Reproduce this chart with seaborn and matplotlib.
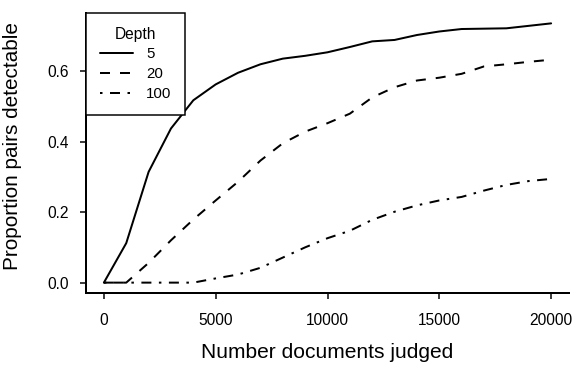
import matplotlib
matplotlib.use("Agg")
import matplotlib.pyplot as plt
import seaborn as sns
import numpy as np
import pandas as pd

docs = [0, 1000, 2000, 3000, 4000, 5000, 6000, 7000, 8000, 9000, 10000,
        11000, 12000, 13000, 14000, 15000, 16000, 17000, 18000, 19000, 20000]
depth5 = [0.0, 0.112, 0.314, 0.437, 0.517, 0.562, 0.595, 0.619, 0.635, 0.643, 0.653,
          0.668, 0.684, 0.688, 0.702, 0.712, 0.719, 0.720, 0.721, 0.728, 0.735]
depth20 = [0.0, 0.0, 0.056, 0.120, 0.179, 0.233, 0.286, 0.346, 0.395, 0.428, 0.452,
           0.479, 0.525, 0.554, 0.573, 0.581, 0.592, 0.613, 0.619, 0.626, 0.632]
depth100 = [0.0, 0.0, 0.0, 0.0, 0.0, 0.012, 0.023, 0.042, 0.071, 0.100, 0.126,
            0.147, 0.178, 0.201, 0.219, 0.233, 0.243, 0.261, 0.277, 0.288, 0.294]
depth_labels = ["5", "20", "100"]
x_ticks = [0, 5000, 10000, 15000, 20000]
y_ticks = [0.0, 0.2, 0.4, 0.6]

sns.set_style("ticks")
plt.rcParams["font.family"] = ["Liberation Sans", "DejaVu Sans"]
plt.rcParams["text.color"] = "black"
plt.rcParams["axes.labelcolor"] = "black"
plt.rcParams["xtick.color"] = "black"
plt.rcParams["ytick.color"] = "black"

fig = plt.figure(figsize=(576 / 72, 365 / 72), dpi=72)
ax = fig.add_axes([86 / 576, 1 - 293 / 365, (569 - 86) / 576, (293 - 13) / 365])

series = [depth5, depth20, depth100]
styles = ["-", (0, (5, 5)), (0, (1.25, 3.75, 5, 3.75))]
for vals, lab, ls in zip(series, depth_labels, styles):
    sns.lineplot(x=docs, y=vals, ax=ax, color="black", linewidth=2,
                 linestyle=ls, label=lab)

xr = max(docs) - min(docs)
ax.set_xlim(min(docs) - 0.04 * xr, max(docs) + 0.04 * xr)
allv = depth5 + depth20 + depth100
yr = max(allv) - min(allv)
ax.set_ylim(min(allv) - 0.04 * yr, max(allv) + 0.04 * yr)

ax.set_xticks(x_ticks)
ax.set_xticklabels([str(t) for t in x_ticks])
ax.set_yticks(y_ticks)
ax.set_yticklabels([f"{t:.1f}" for t in y_ticks])

for side in ["top", "right"]:
    ax.spines[side].set_visible(False)
for side in ["left", "bottom"]:
    ax.spines[side].set_linewidth(2)
    ax.spines[side].set_color("black")

ax.tick_params(axis="both", direction="out", length=6, width=1.5, colors="black",
               labelcolor="black", labelsize=15.5)
ax.tick_params(axis="x", pad=14)
ax.tick_params(axis="y", pad=11)

ax.set_xlabel("Number documents judged", fontsize=21, labelpad=15, color="black")
ax.set_ylabel("Proportion pairs detectable", fontsize=20.7, color="black")
ax.yaxis.set_label_coords(-0.1325, 0.525)

leg = ax.legend(title="Depth", loc="upper left", bbox_to_anchor=(0, 1),
                borderaxespad=0, fancybox=False, frameon=True, fontsize=15,
                title_fontsize=15.5, handlelength=2.2, handletextpad=0.9,
                borderpad=0.9, labelspacing=0.4)
leg.get_frame().set_edgecolor("black")
leg.get_frame().set_linewidth(1.5)
leg.get_frame().set_alpha(1)
for t in leg.get_texts():
    t.set_color("black")
leg.get_title().set_color("black")

fig.savefig("out.png", dpi=72)
